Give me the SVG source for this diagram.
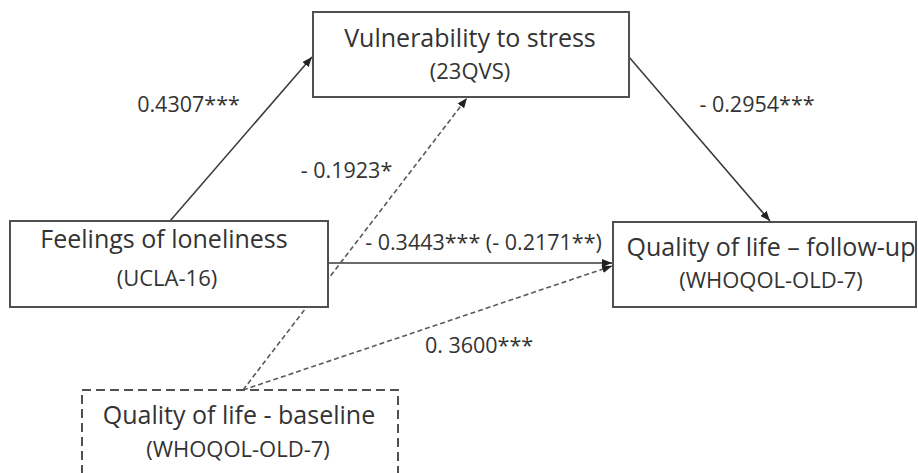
<svg xmlns="http://www.w3.org/2000/svg" width="918" height="473" viewBox="0 0 918 473">
<defs>
<style>
.box{fill:#fff;stroke:#505050;stroke-width:2}
.dbox{fill:#fff;stroke:#505050;stroke-width:2;stroke-dasharray:9 5}
.t{font-family:"Open Sans","DejaVu Sans",sans-serif;fill:#333;text-anchor:middle}
.big{font-size:25px}
.sub{font-size:22px}
.lbl{font-size:21.5px}
.ln{stroke:#3a3a3a;stroke-width:1.5;fill:none}
.dl{stroke:#5a5a5a;stroke-width:1.6;fill:none;stroke-dasharray:5 3}
</style>
<marker id="ah" markerWidth="10" markerHeight="8" refX="10" refY="4" orient="auto" markerUnits="userSpaceOnUse">
<path d="M0,0 L10,4 L0,8 z" fill="#222"/>
</marker>
</defs>
<rect width="918" height="473" fill="#fff"/>
<g id="connectors">
<line class="ln" x1="170" y1="221" x2="312" y2="57" marker-end="url(#ah)"/>
<line class="ln" x1="629" y1="57" x2="770" y2="221" marker-end="url(#ah)"/>
<line class="ln" x1="328" y1="263" x2="612" y2="263" marker-end="url(#ah)"/>
<line class="dl" x1="243" y1="390" x2="467" y2="98" marker-end="url(#ah)"/>
<line class="dl" x1="243" y1="390" x2="612" y2="266" marker-end="url(#ah)"/>
</g>
<g id="labels">
<text class="t lbl" x="188.5" y="112">0.4307***</text>
<text class="t lbl" x="757" y="112">- 0.2954***</text>
<text class="t lbl" x="346.5" y="178">- 0.1923*</text>
<text class="t lbl" x="483.5" y="250">- 0.3443*** (- 0.2171**)</text>
<text class="t lbl" x="479" y="353">0. 3600***</text>
</g>
<g id="vulnerability">
<rect class="box" x="313" y="12" width="316" height="85"/>
<text class="t big" x="470" y="47">Vulnerability to stress</text>
<text class="t sub" x="470" y="79">(23QVS)</text>
</g>
<g id="loneliness">
<rect class="box" x="10" y="221" width="318" height="86"/>
<text class="t big" x="164" y="248">Feelings of loneliness</text>
<text class="t sub" x="167" y="286">(UCLA-16)</text>
</g>
<g id="qol-followup">
<rect class="box" x="613" y="222" width="303" height="85"/>
<text class="t big" x="771" y="256">Quality of life – follow-up</text>
<text class="t sub" x="771" y="288">(WHOQOL-OLD-7)</text>
</g>
<g id="qol-baseline">
<rect class="dbox" x="82" y="390" width="316" height="90"/>
<text class="t big" x="239" y="424">Quality of life - baseline</text>
<text class="t sub" x="238" y="457">(WHOQOL-OLD-7)</text>
</g>
</svg>
